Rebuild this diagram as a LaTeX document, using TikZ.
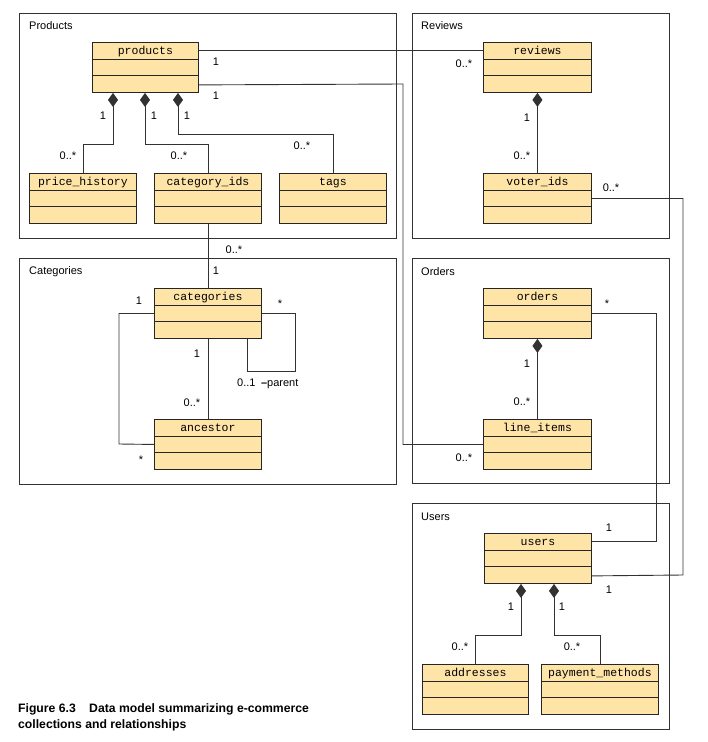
\documentclass[tikz,border=0pt]{standalone}
\usepackage{fontspec}
\setmainfont{Liberation Sans}
\newfontfamily\classfont{Liberation Mono}
\usetikzlibrary{arrows.meta}
\definecolor{classfill}{RGB}{255,228,168}
\definecolor{wire}{RGB}{50,50,50}

\begin{document}
\begin{tikzpicture}[x=1pt, y=-1pt,
    pkg/.style={rectangle, draw=wire, line width=0.9pt, anchor=north west, minimum height=225pt},
    pkgname/.style={anchor=west, inner sep=0pt, font=\fontsize{11}{13}\selectfont},
    cls/.style={rectangle, draw=black!85, fill=classfill, line width=0.9pt, anchor=north west,
        minimum width=107pt, inner xsep=0pt, inner ysep=0pt, text height=12pt, text depth=38pt,
        font=\classfont\fontsize{11.5}{13}\selectfont,
        path picture={\draw[black!85, line width=0.9pt]
            ([yshift=-17pt]path picture bounding box.north west) -- ([yshift=-17pt]path picture bounding box.north east)
            ([yshift=-33pt]path picture bounding box.north west) -- ([yshift=-33pt]path picture bounding box.north east);}},
    link/.style={draw=wire, line width=0.9pt},
    comp/.style={link, -{Diamond[length=14pt, width=10pt]}},
    mult/.style={inner sep=0pt, font=\fontsize{11}{13}\selectfont}
]
    \useasboundingbox (0,0) rectangle (708,742);

    % Packages
    \node[pkg, minimum width=377pt] (prodpkg) at (19,13) {};
    \node[pkg, minimum width=257pt] (revpkg) at (412,13) {};
    \node[pkg, minimum width=377pt, minimum height=226pt] (catpkg) at (19,258) {};
    \node[pkg, minimum width=257pt] (ordpkg) at (412,258) {};
    \node[pkg, minimum width=257pt, minimum height=226pt] (userpkg) at (412,503) {};
    \node[pkgname] (prodtitle) at (29,26) {Products};
    \node[pkgname] (revtitle) at (421,26) {Reviews};
    \node[pkgname] (cattitle) at (29,272) {Categories};
    \node[pkgname] (ordtitle) at (421,272) {Orders};
    \node[pkgname] (usertitle) at (421,517) {Users};

    % Classes
    \node[cls, minimum width=106pt] (products) at (92,42) {products};
    \node[cls] (pricehistory) at (29,173) {price\_history};
    \node[cls] (catids) at (154,173) {category\_ids};
    \node[cls] (tags) at (279,173) {tags};
    \node[cls, minimum width=108pt] (reviews) at (483,42) {reviews};
    \node[cls, minimum width=108pt] (voterids) at (483,173) {voter\_ids};
    \node[cls] (categories) at (154,288) {categories};
    \node[cls] (ancestor) at (154,419) {ancestor};
    \node[cls, minimum width=108pt] (orders) at (483,288) {orders};
    \node[cls, minimum width=108pt] (lineitems) at (483,419) {line\_items};
    \node[cls] (users) at (484,533) {users};
    \node[cls, minimum width=106pt] (addresses) at (422,664) {addresses};
    \node[cls, minimum width=117pt] (payment) at (541,664) {payment\_methods};

    % Bends
    \coordinate (phbend) at (113,144);
    \coordinate (cibend) at (145,144);
    \coordinate (tagbend) at (178,134);
    \coordinate (prodbend) at (403,84);
    \coordinate (votebend) at (683,575);
    \coordinate (ordbend) at (656,541.5);
    \coordinate (selfbend) at (295,371);
    \coordinate (ancbend) at (119,444);
    \coordinate (addrbend) at (521,635);
    \coordinate (paybend) at (554,635);

    % Connectors
    \draw[comp] (pricehistory.north) |- (phbend) -- (phbend |- products.south);
    \draw[comp] (catids.north) |- (cibend) -- (cibend |- products.south);
    \draw[comp] (tags.north) |- (tagbend) -- (tagbend |- products.south);
    \draw[link] ([yshift=-8.5pt]products.north east) -- ([yshift=-8.5pt]reviews.north west);
    \draw[link] ([yshift=8pt]products.south east) -- (prodbend) |- (lineitems.west);
    \draw[comp] (voterids.north) -- (reviews.south);
    \draw[link] (voterids.east) -| (votebend) -- ([yshift=8pt]users.south east);
    \draw[link] (catids.south) -- (categories.north);
    \draw[link] (categories.east) -| (selfbend) -| ([xshift=-14pt]categories.south east);
    \draw[link] (categories.south) -- (ancestor.north);
    \draw[link] (categories.west) -| (ancbend) -- (ancestor.west);
    \draw[comp] (lineitems.north) -- (orders.south);
    \draw[link] (orders.east) -| (ordbend) -- ([yshift=-8.5pt]users.north east);
    \draw[comp] (addresses.north) |- (addrbend) -- (addrbend |- users.south);
    \draw[comp] (payment.north) |- (paybend) -- (paybend |- users.south);

    % Multiplicities
    \node[mult] (m1) at (216,62) {1};
    \node[mult] (m2) at (464,64) {0..*};
    \node[mult] (m3) at (216,96) {1};
    \node[mult] (m4) at (464,458) {0..*};
    \node[mult] (m5) at (103,116) {1};
    \node[mult] (m6) at (68,156) {0..*};
    \node[mult] (m7) at (154,116) {1};
    \node[mult] (m8) at (179,156) {0..*};
    \node[mult] (m9) at (187,116) {1};
    \node[mult] (m10) at (302,146) {0..*};
    \node[mult] (m11) at (527,118) {1};
    \node[mult] (m12) at (522,156) {0..*};
    \node[mult] (m13) at (611,188) {0..*};
    \node[mult] (m14) at (609,590) {1};
    \node[mult] (m15) at (234,250) {0..*};
    \node[mult] (m16) at (216,271) {1};
    \node[mult] (m17) at (139,301) {1};
    \node[mult] (m18) at (141,460) {*};
    \node[mult] (m19) at (197,354) {1};
    \node[mult] (m20) at (192,403) {0..*};
    \node[mult] (m21) at (280,304) {*};
    \node[mult, anchor=west] (m22) at (237,384) {0..1\hspace{0.5em}{\bfseries –}parent};
    \node[mult] (m23) at (607,304) {*};
    \node[mult] (m24) at (609,528) {1};
    \node[mult] (m25) at (527,364) {1};
    \node[mult] (m26) at (522,402) {0..*};
    \node[mult] (m27) at (511,607) {1};
    \node[mult] (m28) at (460,647) {0..*};
    \node[mult] (m29) at (562,607) {1};
    \node[mult] (m30) at (572,647) {0..*};

    % Caption
    \node[anchor=north west, align=left, inner sep=0pt, font=\bfseries\fontsize{12.2}{16}\selectfont] (caption) at (18,703)
        {Figure 6.3\hspace{1.1em}Data model summarizing e-commerce\\collections and relationships};
\end{tikzpicture}
\end{document}
